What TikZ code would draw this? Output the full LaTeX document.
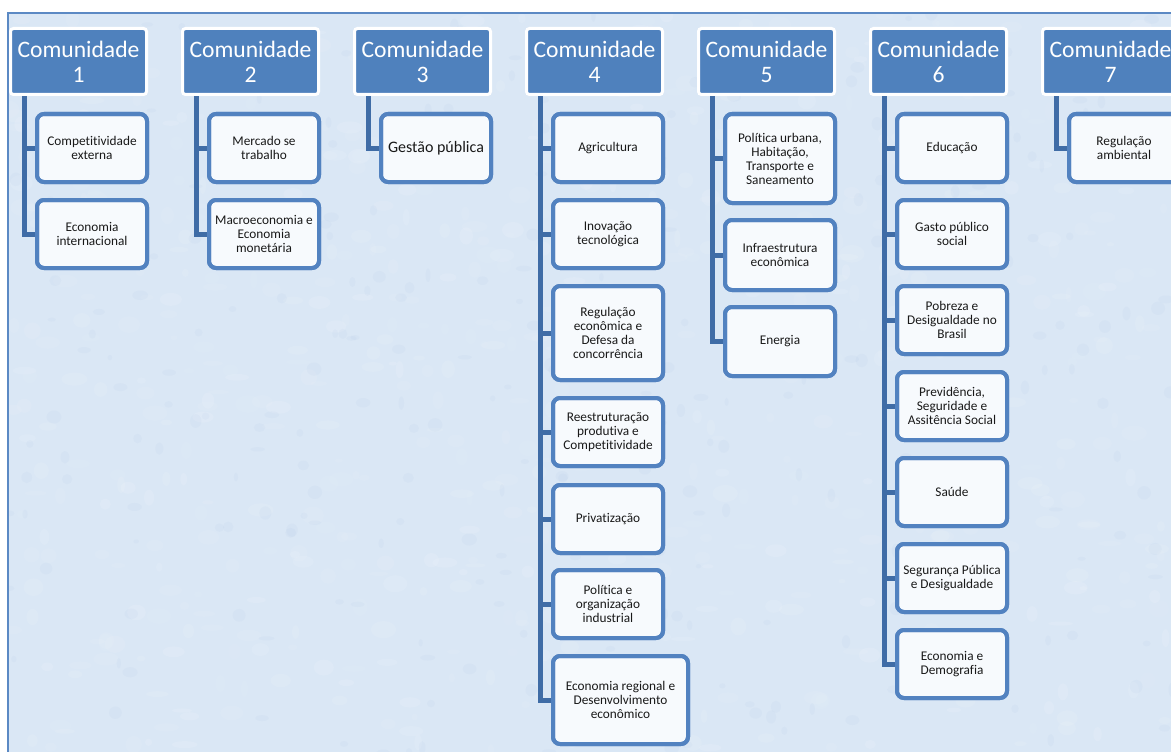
\documentclass[tikz,border=0pt]{standalone}
\usepackage{fontspec}
\setmainfont{Carlito}[Ligatures=NoCommon]
\definecolor{hblue}{HTML}{4F81BD}
\definecolor{cblue}{HTML}{5282C0}
\definecolor{lblue}{HTML}{3F6CA6}
\definecolor{cfill}{HTML}{F7FAFD}
\definecolor{bgblue}{HTML}{DAE7F5}
\definecolor{frame}{HTML}{5B89C4}
\tikzset{
  head/.style={draw=white, line width=3pt, fill=hblue, rounded corners=3pt,
    minimum width=136pt, minimum height=66pt, inner sep=0pt, outer sep=0pt,
    text=white, font=\fontsize{23.6}{25}\selectfont, align=center},
  child/.style={draw=cblue, line width=4pt, fill=cfill, rounded corners=7pt,
    minimum width=110pt, minimum height=68pt, inner sep=0pt, outer sep=0pt,
    font=\fontsize{13.3}{14}\selectfont, align=center, text=black!90},
  conn/.style={draw=lblue, line width=5pt, line join=miter}
}
\begin{document}
\begin{tikzpicture}[x=1pt,y=-1pt]
\useasboundingbox (0,0) rectangle (1171,752);
\clip (0,0) rectangle (1171,752);
\fill[white] (0,0) rectangle (1171,752);
\fill[bgblue] (8,13) rectangle (1175,756);
\begin{scope}
\clip (8,13) rectangle (1175,756);
\pgfmathsetseed{7}
\foreach \i in {1,...,700}{
  \pgfmathsetmacro{\xx}{8+1165*rnd}
  \pgfmathsetmacro{\yy}{13+740*rnd}
  \pgfmathsetmacro{\rr}{3+10*rnd}
  \pgfmathsetmacro{\rs}{2+7*rnd}
  \pgfmathsetmacro{\op}{0.04+0.08*rnd}
  \fill[white, opacity=\op] (\xx,\yy) ellipse [x radius=\rr, y radius=\rs];
}
\foreach \i in {1,...,300}{
  \pgfmathsetmacro{\xx}{8+1165*rnd}
  \pgfmathsetmacro{\yy}{13+740*rnd}
  \pgfmathsetmacro{\rr}{2+6*rnd}
  \pgfmathsetmacro{\rs}{2+5*rnd}
  \fill[frame, opacity=0.035] (\xx,\yy) ellipse [x radius=\rr, y radius=\rs];
}
\end{scope}
\draw[frame, line width=1.5pt] (8,756) -- (8,13) -- (1175,13);

% line coordinates
\coordinate (l1) at (24,0);
\coordinate (l2) at (196,0);
\coordinate (l3) at (368,0);
\coordinate (l4) at (540,0);
\coordinate (l5) at (712,0);
\coordinate (l6) at (884,0);
\coordinate (l7) at (1056,0);

% header positions
\path (78.5,61.5) coordinate (p1) (250.5,61.5) coordinate (p2) (422.5,61.5) coordinate (p3)
      (594.5,61.5) coordinate (p4) (766.5,61.5) coordinate (p5) (938.5,61.5) coordinate (p6)
      (1110.5,61.5) coordinate (p7);

% children
\node[child] (c1a) at (92,148) {Competitividade\\externa};
\node[child] (c1b) at (92,234) {Economia\\internacional};

\node[child] (c2a) at (264,148) {Mercado se\\trabalho};
\node[child] (c2b) at (264,234) {Macroeconomia e\\Economia\\monetária};

\node[child, font=\fontsize{16}{17}\selectfont] (c3a) at (436,148) {Gestão pública};

\node[child] (c4a) at (608,148) {Agricultura};
\node[child] (c4b) at (608,234) {Inovação\\tecnológica};
\node[child, minimum height=94pt] (c4c) at (608,333) {Regulação\\econômica e\\Defesa da\\concorrência};
\node[child] (c4d) at (608,432) {Reestruturação\\produtiva e\\Competitividade};
\node[child] (c4e) at (608,519) {Privatização};
\node[child] (c4f) at (608,604) {Política e\\organização\\industrial};
\node[child, minimum width=135pt, minimum height=88pt] (c4g) at (620.5,700) {Economia regional e\\Desenvolvimento\\econômico};

\node[child, minimum height=89pt] (c5a) at (780,158.5) {Política urbana,\\Habitação,\\Transporte e\\Saneamento};
\node[child, minimum height=70pt] (c5b) at (780,255) {Infraestrutura\\econômica};
\node[child, minimum height=69pt] (c5c) at (780,341.5) {Energia};

\node[child] (c6a) at (952,148) {Educação};
\node[child] (c6b) at (952,234) {Gasto público\\social};
\node[child] (c6c) at (952,320) {Pobreza e\\Desigualdade no\\Brasil};
\node[child] (c6d) at (952,406) {Previdência,\\Seguridade e\\Assitência Social};
\node[child] (c6e) at (952,492) {Saúde};
\node[child] (c6f) at (952,578) {Segurança Pública\\e Desigualdade};
\node[child] (c6g) at (952,664) {Economia e\\Demografia};

\node[child] (c7a) at (1124,148) {Regulação\\ambiental};

% connectors
\draw[conn] (l1 |- p1) |- (c1b.west);
\draw[conn] (l1 |- c1a.west) -- (c1a.west);

\draw[conn] (l2 |- p2) |- (c2b.west);
\draw[conn] (l2 |- c2a.west) -- (c2a.west);

\draw[conn] (l3 |- p3) |- (c3a.west);

\draw[conn] (l4 |- p4) |- (c4g.west);
\foreach \c in {c4a,c4b,c4c,c4d,c4e,c4f}
  \draw[conn] (l4 |- \c.west) -- (\c.west);

\draw[conn] (l5 |- p5) |- (c5c.west);
\foreach \c in {c5a,c5b}
  \draw[conn] (l5 |- \c.west) -- (\c.west);

\draw[conn] (l6 |- p6) |- (c6g.west);
\foreach \c in {c6a,c6b,c6c,c6d,c6e,c6f}
  \draw[conn] (l6 |- \c.west) -- (\c.west);

\draw[conn] (l7 |- p7) |- (c7a.west);

% redraw children borders over connector ends
\foreach \c in {c1a,c1b,c2a,c2b,c3a,c4a,c4b,c4c,c4d,c4e,c4f,c4g,c5a,c5b,c5c,c6a,c6b,c6c,c6d,c6e,c6f,c6g,c7a}
  \draw[cblue, line width=4pt, rounded corners=7pt] (\c.north west) rectangle (\c.south east);

% headers
\node[head] (h1) at (p1) {Comunidade\\1};
\node[head] (h2) at (p2) {Comunidade\\2};
\node[head] (h3) at (p3) {Comunidade\\3};
\node[head] (h4) at (p4) {Comunidade\\4};
\node[head] (h5) at (p5) {Comunidade\\5};
\node[head] (h6) at (p6) {Comunidade\\6};
\node[head] (h7) at (p7) {Comunidade\\7};
\end{tikzpicture}
\end{document}
